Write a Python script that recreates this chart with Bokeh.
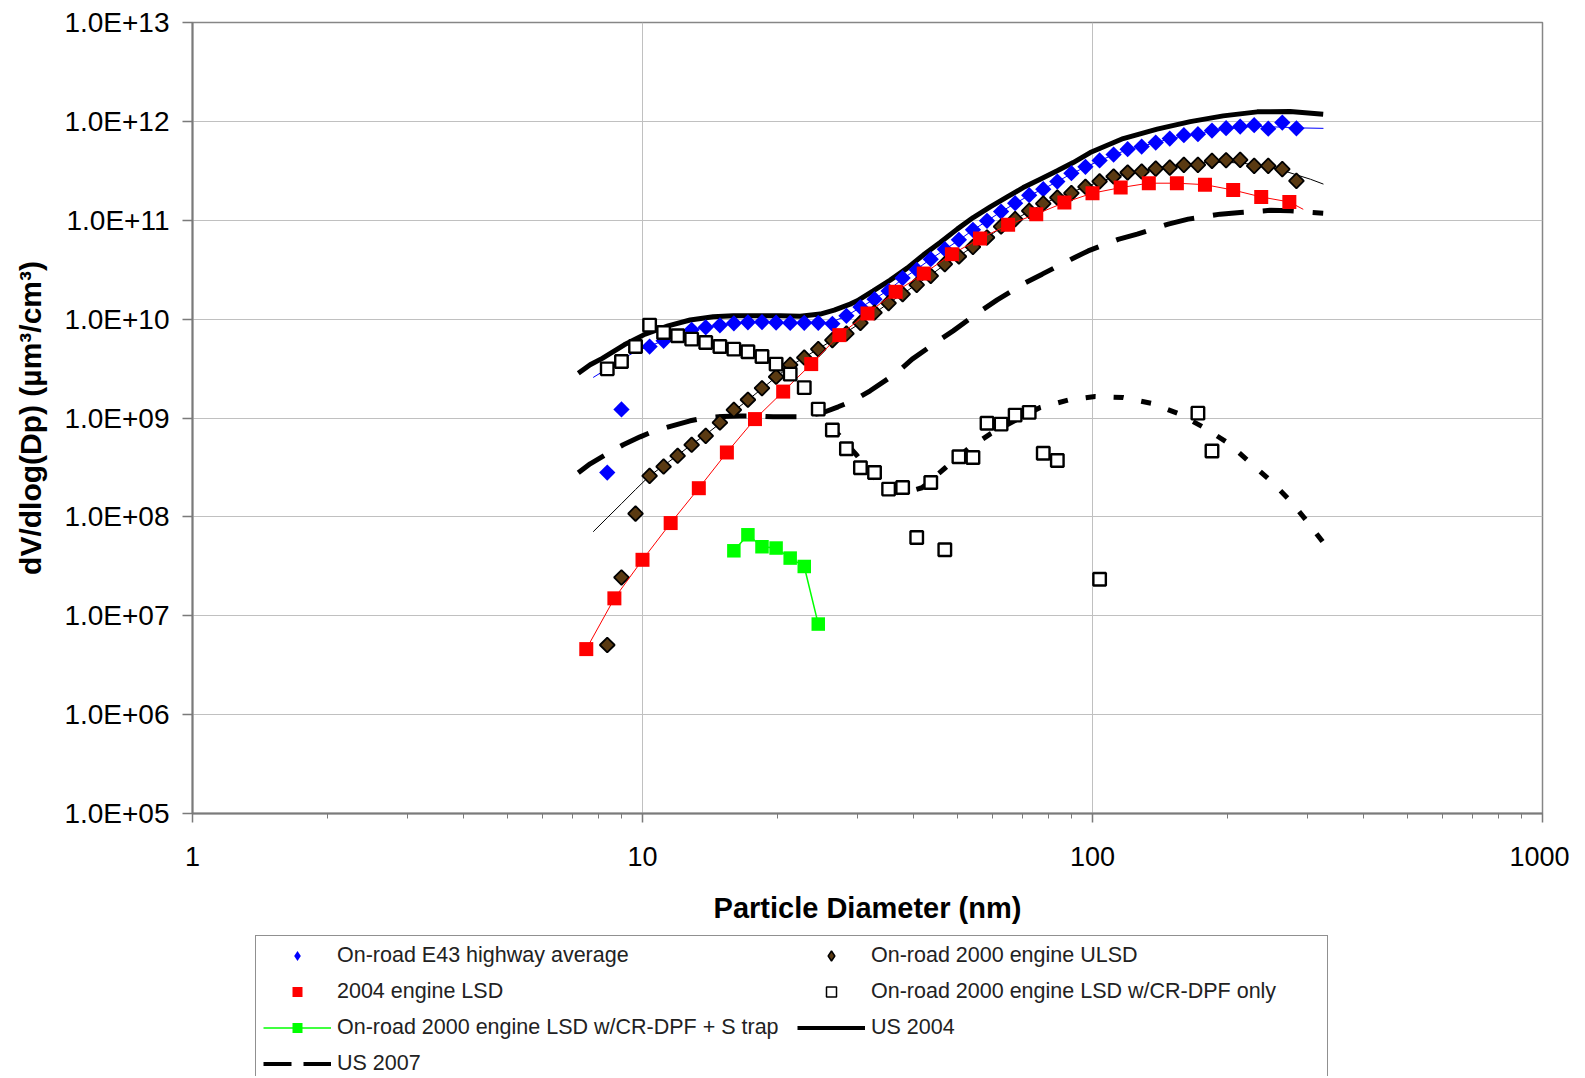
import math
from bokeh.plotting import figure
from bokeh.layouts import column
from bokeh.models import (FixedTicker, CustomJSTickFormatter, Legend, LegendItem,
                          ColumnDataSource)
from bokeh.embed import file_html
from bokeh.resources import INLINE

# ---------------- data ----------------
# On-road E43 highway average (blue diamonds)
e43_dp = [8.35, 8.98, 10.37, 11.14, 12.86, 13.82, 14.86, 15.96, 17.15, 18.43, 19.81, 21.29,
          22.88, 24.58, 26.42, 28.39, 30.50, 32.78, 35.23, 37.85, 40.68, 43.71, 46.97, 50.48,
          54.24, 58.29, 62.64, 67.31, 72.33, 77.73, 83.53, 89.76, 96.46, 103.7, 111.4, 119.7,
          128.6, 138.2, 148.5, 159.6, 171.5, 184.3, 198.1, 212.9, 228.7, 245.8, 264.1, 283.9]
e43_dv = [2.81e8, 1.22e9, 5.28e9, 6.03e9, 7.79e9, 8.26e9, 8.66e9, 9.07e9, 9.28e9, 9.33e9, 9.22e9, 9.15e9,
          9.18e9, 9.18e9, 8.96e9, 1.08e10, 1.325e10, 1.59e10, 1.93e10, 2.60e10, 3.15e10, 4.04e10, 5.10e10, 6.34e10,
          8.0e10, 9.86e10, 1.224e11, 1.489e11, 1.794e11, 2.063e11, 2.462e11, 2.995e11, 3.47e11, 4.03e11, 4.62e11, 5.23e11,
          5.56e11, 6.11e11, 6.70e11, 7.25e11, 7.42e11, 8.07e11, 8.54e11, 8.86e11, 9.15e11, 8.44e11, 9.72e11, 8.50e11]
# fitted curve drawn through the E43 points (thin blue line)
e43_fit_dp = [7.77, 8.35, 8.98, 9.65, 10.37, 11.14, 11.97, 12.86, 13.82, 14.86, 15.96, 17.15, 18.43, 19.81,
              21.29, 22.88, 24.58, 26.42, 28.39, 30.50, 32.78, 35.23, 37.85, 40.68, 43.71, 46.97, 50.48,
              54.24, 58.29, 62.64, 67.31, 72.33, 77.73, 83.53, 89.76, 96.46, 103.7, 111.4, 119.7, 128.6,
              138.2, 148.5, 159.6, 171.5, 184.3, 198.1, 212.9, 228.7, 245.8, 264.1, 283.9, 326.0]
e43_fit_dv = [2.57e9, 3.15e9, 3.9e9, 4.7e9, 5.35e9, 6.05e9, 6.9e9, 7.75e9, 8.25e9, 8.65e9, 9.0e9, 9.2e9, 9.25e9, 9.2e9,
              9.15e9, 9.15e9, 9.1e9, 9.4e9, 1.08e10, 1.31e10, 1.6e10, 1.97e10, 2.55e10, 3.2e10, 4.05e10, 5.05e10, 6.3e10,
              7.95e10, 9.85e10, 1.22e11, 1.48e11, 1.78e11, 2.07e11, 2.46e11, 2.95e11, 3.45e11, 4.0e11, 4.6e11, 5.15e11, 5.6e11,
              6.1e11, 6.65e11, 7.15e11, 7.55e11, 8.0e11, 8.4e11, 8.7e11, 8.9e11, 8.8e11, 8.75e11, 8.6e11, 8.5e11]

# On-road 2000 engine ULSD (brown diamonds)
ulsd_dp = [8.35, 8.98, 9.65, 10.37, 11.14, 11.97, 12.86, 13.82, 14.86, 15.96, 17.15, 18.43, 19.81,
           21.29, 22.88, 24.58, 26.42, 28.39, 30.50, 32.78, 35.23, 37.85, 40.68, 43.71, 46.97, 50.48,
           54.24, 58.29, 62.64, 67.31, 72.33, 77.73, 83.53, 89.76, 96.46, 103.7, 111.4, 119.7, 128.6,
           138.2, 148.5, 159.6, 171.5, 184.3, 198.1, 212.9, 228.7, 245.8, 264.1, 283.9]
ulsd_dv = [5.06e6, 2.44e7, 1.08e8, 2.6e8, 3.23e8, 4.15e8, 5.36e8, 6.6e8, 9.0e8, 1.21e9, 1.53e9, 2.0e9, 2.61e9,
           3.45e9, 4.09e9, 4.97e9, 6.13e9, 7.15e9, 9.17e9, 1.166e10, 1.45e10, 1.79e10, 2.22e10, 2.74e10, 3.60e10, 4.30e10,
           5.38e10, 6.69e10, 8.64e10, 1.026e11, 1.245e11, 1.475e11, 1.696e11, 1.88e11, 2.18e11, 2.47e11, 2.77e11, 3.04e11, 3.11e11,
           3.33e11, 3.41e11, 3.63e11, 3.63e11, 3.99e11, 4.05e11, 4.08e11, 3.55e11, 3.55e11, 3.29e11, 2.50e11]
ulsd_fit_dp = [7.77, 8.35, 8.98, 9.65, 10.37, 11.14, 11.97, 12.86, 13.82, 14.86, 15.96, 17.15, 18.43, 19.81,
               21.29, 22.88, 24.58, 26.42, 28.39, 30.50, 32.78, 35.23, 37.85, 40.68, 43.71, 46.97, 50.48,
               54.24, 58.29, 62.64, 67.31, 72.33, 77.73, 83.53, 89.76, 96.46, 103.7, 111.4, 119.7, 128.6,
               138.2, 148.5, 159.6, 171.5, 184.3, 198.1, 212.9, 228.7, 245.8, 264.1, 283.9, 305.0, 326.0]
ulsd_fit_dv = [7.07e7, 9.8e7, 1.36e8, 1.89e8, 2.6e8, 3.3e8, 4.2e8, 5.4e8, 6.8e8, 8.8e8, 1.18e9, 1.52e9, 1.98e9, 2.6e9,
               3.35e9, 4.1e9, 5.0e9, 6.1e9, 7.4e9, 9.1e9, 1.15e10, 1.45e10, 1.8e10, 2.25e10, 2.8e10, 3.55e10, 4.35e10,
               5.4e10, 6.7e10, 8.4e10, 1.02e11, 1.23e11, 1.46e11, 1.7e11, 1.92e11, 2.18e11, 2.45e11, 2.72e11, 2.98e11, 3.18e11,
               3.38e11, 3.55e11, 3.7e11, 3.8e11, 3.85e11, 3.85e11, 3.8e11, 3.65e11, 3.45e11, 3.2e11, 2.88e11, 2.6e11, 2.32e11]

# 2004 engine LSD (red squares, with thin red line)
lsd_dp = [7.50, 8.66, 10.0, 11.55, 13.34, 15.40, 17.78, 20.54, 23.71, 27.38, 31.62, 36.52, 42.17,
          48.70, 56.23, 64.94, 74.99, 86.60, 100.0, 115.5, 133.4, 154.0, 177.8, 205.4, 237.1, 273.8]
lsd_dv = [4.6e6, 1.50e7, 3.68e7, 8.66e7, 1.95e8, 4.48e8, 9.75e8, 1.85e9, 3.51e9, 6.89e9, 1.14e10, 1.89e10, 2.89e10,
          4.54e10, 6.53e10, 8.98e10, 1.153e11, 1.51e11, 1.88e11, 2.14e11, 2.37e11, 2.37e11, 2.29e11, 2.02e11, 1.72e11, 1.53e11]
lsd_line_end_dp = [294.0]
lsd_line_end_dv = [1.29e11]

# On-road 2000 engine LSD w/CR-DPF only (open squares)
crdpf_dp = [8.35, 8.98, 9.65, 10.37, 11.14, 11.97, 12.86, 13.82, 14.86, 15.96, 17.15, 18.43, 19.81,
            21.29, 22.88, 24.58, 26.42, 28.39, 30.50, 32.78, 35.23, 37.85, 40.68, 43.71, 46.97, 50.48,
            54.24, 58.29, 62.64, 67.31, 72.33, 77.73, 83.53, 103.7, 171.5, 184.3]
crdpf_dv = [3.14e9, 3.73e9, 5.28e9, 8.70e9, 7.32e9, 6.78e9, 6.28e9, 5.80e9, 5.28e9, 4.97e9, 4.67e9, 4.19e9, 3.51e9,
            2.78e9, 2.03e9, 1.23e9, 7.55e8, 4.88e8, 3.14e8, 2.81e8, 1.91e8, 1.98e8, 6.19e7, 2.23e8, 4.65e7, 4.05e8,
            3.99e8, 8.84e8, 8.68e8, 1.07e9, 1.14e9, 4.40e8, 3.72e8, 2.34e7, 1.12e9, 4.63e8]
# fitted curve for the CR-DPF data (short-dashed, not in legend)
crdpf_fit_dp = [26.4, 27.3, 30.0, 32.9, 37.4, 41.8, 47.1, 52.9, 59.3, 68.4, 76.5, 88.3, 101.4, 117.0,
                135.0, 154.3, 176.2, 199.3, 221.8, 248.2, 275.0, 301.6, 325.6]
crdpf_fit_dv = [7.78e8, 6.76e8, 4.15e8, 2.43e8, 1.71e8, 1.97e8, 3.14e8, 4.88e8, 6.92e8, 9.81e8, 1.277e9, 1.517e9,
                1.65e9, 1.61e9, 1.408e9, 1.121e9, 8.09e8, 5.65e8, 3.69e8, 2.34e8, 1.455e8, 8.71e7, 5.51e7]

# On-road 2000 engine LSD w/CR-DPF + S trap (green)
strap_dp = [15.96, 17.15, 18.43, 19.81, 21.29, 22.88, 24.58]
strap_dv = [4.54e7, 6.59e7, 4.99e7, 4.84e7, 3.83e7, 3.15e7, 8.24e6]

# US 2004 (thick solid)
us2004_dp = [7.20, 7.65, 8.14, 9.11, 10.14, 11.40, 12.76, 14.36, 15.91, 17.98, 20.23, 22.41, 24.83, 26.67,
             28.94, 30.00, 32.56, 35.52, 38.74, 42.05, 45.86, 50.04, 54.31, 59.26, 64.64, 70.15, 76.52,
             83.49, 90.60, 98.83, 117.0, 139.2, 164.9, 195.2, 232.3, 275.0, 325.6]
us2004_dv = [2.83e9, 3.45e9, 4.01e9, 5.50e9, 7.05e9, 8.56e9, 9.79e9, 1.055e10, 1.08e10, 1.08e10, 1.08e10, 1.067e10,
             1.124e10, 1.233e10, 1.418e10, 1.531e10, 1.932e10, 2.48e10, 3.28e10, 4.44e10, 5.95e10, 8.13e10, 1.065e11,
             1.366e11, 1.724e11, 2.14e11, 2.60e11, 3.16e11, 3.83e11, 4.84e11, 6.70e11, 8.34e11, 9.95e11, 1.137e12,
             1.248e12, 1.256e12, 1.182e12]

# US 2007 (thick long dash)
us2007_dp = [7.20, 7.65, 8.27, 9.06, 9.88, 10.51, 11.64, 12.76, 13.64, 15.04, 16.49, 17.62, 19.52, 21.30,
             22.87, 25.21, 27.22, 29.39, 32.06, 36.81, 39.75, 45.40, 49.02, 56.28, 61.41, 70.87, 77.30,
             89.68, 97.8, 114.0, 125.7, 147.3, 163.2, 192.2, 212.9, 248.2, 275.0, 325.6]
us2007_dv = [2.79e8, 3.44e8, 4.24e8, 5.36e8, 6.45e8, 7.25e8, 8.34e8, 9.37e8, 9.98e8, 1.036e9, 1.048e9, 1.05e9,
             1.028e9, 1.028e9, 1.028e9, 1.137e9, 1.298e9, 1.493e9, 1.884e9, 2.88e9, 3.94e9, 6.03e9, 7.61e9,
             1.199e10, 1.567e10, 2.33e10, 2.85e10, 4.04e10, 4.90e10, 6.41e10, 7.24e10, 9.13e10, 1.026e11,
             1.153e11, 1.196e11, 1.259e11, 1.245e11, 1.18e11]

x_major = [1, 10, 100, 1000]
x_minor = [2, 3, 4, 5, 6, 7, 8, 9, 20, 30, 40, 50, 60, 70, 80, 90,
           200, 300, 400, 500, 600, 700, 800, 900]
y_major = [1e5, 1e6, 1e7, 1e8, 1e9, 1e10, 1e11, 1e12, 1e13]

legend_labels = ["On-road E43 highway average", "2004 engine LSD",
                 "On-road 2000 engine LSD w/CR-DPF + S trap", "US 2007",
                 "On-road 2000 engine ULSD", "On-road 2000 engine LSD w/CR-DPF only", "US 2004"]

FONT = "Liberation Sans"
BROWN = "#5a3a12"
GREEN = "#00ff00"

# ---------------- main chart ----------------
p = figure(width=1569, height=928, x_axis_type="log", y_axis_type="log",
           x_range=(1, 1000), y_range=(1e5, 1e13),
           output_backend="svg", toolbar_location=None,
           min_border_left=192, min_border_right=27, min_border_top=22, min_border_bottom=115)

p.background_fill_color = "white"
p.border_fill_color = "white"
p.outline_line_color = "#868686"
p.outline_line_width = 1.5

p.xaxis.ticker = FixedTicker(ticks=x_major, minor_ticks=x_minor)
p.yaxis.ticker = FixedTicker(ticks=y_major, minor_ticks=[])
p.xaxis.formatter = CustomJSTickFormatter(code="return Math.round(tick).toString();")
p.yaxis.formatter = CustomJSTickFormatter(code="""
const e = Math.round(Math.log10(tick));
return "1.0E+" + (e < 10 ? "0" + e : "" + e);
""")
for ax in (p.xaxis, p.yaxis):
    ax.axis_line_color = "#7a7a7a"
    ax.axis_line_width = 2
    ax.major_tick_line_color = "#7a7a7a"
    ax.major_tick_line_width = 1.5
    ax.major_tick_out = 9
    ax.major_tick_in = 0
    ax.major_label_text_font = FONT
    ax.major_label_text_color = "#000000"
    ax.axis_label_text_font = FONT
    ax.axis_label_text_font_style = "bold"
    ax.axis_label_text_color = "#000000"
p.yaxis.major_tick_out = 10
p.xaxis.major_label_text_font_size = "27px"
p.yaxis.major_label_text_font_size = "28px"
p.xaxis.axis_label_text_font_size = "29px"
p.yaxis.axis_label_text_font_size = "30px"
p.xaxis.minor_tick_line_color = "#7a7a7a"
p.xaxis.minor_tick_out = 5
p.xaxis.minor_tick_in = 0
p.yaxis.minor_tick_line_color = None
p.xaxis.major_label_standoff = 24
p.yaxis.major_label_standoff = 13
p.xaxis.axis_label = "Particle Diameter (nm)"
p.yaxis.axis_label = "dV/dlog(Dp) (µm³/cm³)"
p.xaxis.axis_label_standoff = 23
p.yaxis.axis_label_standoff = 14

p.xgrid.grid_line_color = "#c0c0c0"
p.ygrid.grid_line_color = "#c0c0c0"
p.xgrid.grid_line_width = 1
p.ygrid.grid_line_width = 1

# thin fitted lines
p.line(e43_fit_dp, e43_fit_dv, line_color="#0000ff", line_width=1)
p.line(ulsd_fit_dp, ulsd_fit_dv, line_color="#000000", line_width=1)

# regulation curves and CR-DPF fit
p.line(us2004_dp, us2004_dv, line_color="black", line_width=5)
p.line(us2007_dp, us2007_dv, line_color="black", line_width=5, line_dash="31 19")
p.line(crdpf_fit_dp, crdpf_fit_dv, line_color="black", line_width=5, line_dash="10 18")

# measured series
p.scatter(e43_dp, e43_dv, marker="square", angle=math.pi / 4, size=11.5,
          fill_color="#0000ff", line_color=None)
p.scatter(ulsd_dp, ulsd_dv, marker="square", angle=math.pi / 4, size=10.5,
          fill_color=BROWN, line_color="black", line_width=1.8)
p.line(lsd_dp + lsd_line_end_dp, lsd_dv + lsd_line_end_dv, line_color="#ff0000", line_width=1)
p.scatter(lsd_dp, lsd_dv, marker="square", size=14, fill_color="#ff0000", line_color=None)
p.line(strap_dp, strap_dv, line_color=GREEN, line_width=1.5)
p.scatter(strap_dp, strap_dv, marker="square", size=13.5, fill_color=GREEN, line_color=None)
p.scatter(crdpf_dp, crdpf_dv, marker="square", size=12.5, fill_color="white",
          line_color="black", line_width=2.4)

# ---------------- legend strip (separate figure below the chart) ----------------
lg = figure(width=1569, height=148, x_range=(0, 1), y_range=(0, 1),
            output_backend="svg", toolbar_location=None,
            x_axis_location=None, y_axis_location=None, min_border=0)
lg.xgrid.visible = False
lg.ygrid.visible = False
lg.outline_line_color = None
lg.background_fill_color = "white"
lg.border_fill_color = "white"


def offscreen():
    # points outside the strip's ranges: only the legend swatch is visible
    return ColumnDataSource(dict(x=[-5.0, -4.0], y=[-5.0, -4.0]))


g_e43 = lg.scatter("x", "y", source=offscreen(), marker="diamond", fill_color="#0000ff", line_color=None)
g_lsd = lg.scatter("x", "y", source=offscreen(), marker="square", fill_color="#ff0000", line_color=None)
g_strap_l = lg.line("x", "y", source=offscreen(), line_color=GREEN, line_width=1.5)
g_strap_m = lg.scatter("x", "y", source=offscreen(), marker="square", fill_color=GREEN, line_color=None)
g_us2007 = lg.line("x", "y", source=offscreen(), line_color="black", line_width=4, line_dash="28 12")
g_ulsd = lg.scatter("x", "y", source=offscreen(), marker="diamond", fill_color=BROWN,
                    line_color="black", line_width=1.5)
g_crdpf = lg.scatter("x", "y", source=offscreen(), marker="square", fill_color="white",
                     line_color="black", line_width=1.5)
g_us2004 = lg.line("x", "y", source=offscreen(), line_color="black", line_width=4)

glyph_sets = [[g_e43], [g_lsd], [g_strap_l, g_strap_m], [g_us2007], [g_ulsd], [g_crdpf], [g_us2004]]
items = [LegendItem(label=lab, renderers=rs, index=0) for lab, rs in zip(legend_labels, glyph_sets)]

legend = Legend(items=items, nrows=4, location=(63, -8),
                glyph_width=68, glyph_height=25, label_height=25, label_width=449,
                label_standoff=6, spacing=11, padding=7, margin=0,
                label_text_font=FONT, label_text_font_size="21.5px", label_text_color="#222222",
                border_line_color="#222222", border_line_width=1.2,
                background_fill_color="white", background_fill_alpha=1.0)
lg.add_layout(legend)

layout = column(p, lg, spacing=0)
open("out.html", "w").write(file_html(layout, INLINE))
